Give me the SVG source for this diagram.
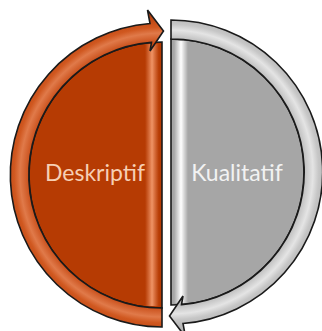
<svg xmlns="http://www.w3.org/2000/svg" xmlns:xlink="http://www.w3.org/1999/xlink" width="322" height="331" viewBox="0 0 322 331">
  <style>
    .outline { stroke: #1a1a1a; stroke-width: 1.6; stroke-linejoin: miter; }
    .label { font-family: Lato, "Liberation Sans", Arial, sans-serif; font-size: 23px; text-anchor: middle; }
  </style>
  <defs>
    <path id="band" d="M 0 152 A 152 152 0 0 1 -12 -151.5 L -14.5 -165 L 1.5 -144 L -12 -124 L -10.5 -132.6 A 133 133 0 0 0 0 133 Z"/>
    <path id="disk" d="M 0 -133 A 133 133 0 0 0 0 133 Z"/>
    <radialGradient id="bandOrange" gradientUnits="userSpaceOnUse" cx="0" cy="0" r="166">
      <stop offset="0.75" stop-color="#b8400c"/>
      <stop offset="0.80" stop-color="#c94f1a"/>
      <stop offset="0.855" stop-color="#e07a4a"/>
      <stop offset="0.89" stop-color="#d05820"/>
      <stop offset="0.93" stop-color="#c24a15"/>
      <stop offset="1" stop-color="#a83a0a"/>
    </radialGradient>
    <radialGradient id="bandGray" gradientUnits="userSpaceOnUse" cx="0" cy="0" r="166">
      <stop offset="0.75" stop-color="#b4b4b4"/>
      <stop offset="0.80" stop-color="#bdbdbd"/>
      <stop offset="0.855" stop-color="#e4e4e4"/>
      <stop offset="0.89" stop-color="#c6c6c6"/>
      <stop offset="0.93" stop-color="#b8b8b8"/>
      <stop offset="1" stop-color="#a8a8a8"/>
    </radialGradient>
    <linearGradient id="stripeOrange" x1="0" y1="0" x2="1" y2="0">
      <stop offset="0" stop-color="#e8875a" stop-opacity="0"/>
      <stop offset="0.5" stop-color="#ef9466" stop-opacity="1"/>
      <stop offset="1" stop-color="#e8875a" stop-opacity="0"/>
    </linearGradient>
    <linearGradient id="stripeGray" x1="0" y1="0" x2="1" y2="0">
      <stop offset="0" stop-color="#ffffff" stop-opacity="0"/>
      <stop offset="0.5" stop-color="#ffffff" stop-opacity="1"/>
      <stop offset="1" stop-color="#ffffff" stop-opacity="0"/>
    </linearGradient>
  </defs>
  <rect width="322" height="331" fill="#ffffff"/>

  <g id="deskriptif">
    <g transform="translate(162,175)">
      <use xlink:href="#disk" href="#disk" fill="#b63b03" class="outline"/>
      <rect x="-17" y="-131" width="14" height="262" fill="url(#stripeOrange)"/>
    </g>
    <text class="label" x="95" y="181" fill="#f6cfb4">Deskriptif</text>
  </g>

  <g id="kualitatif">
    <g transform="translate(171,172) rotate(180)">
      <use xlink:href="#disk" href="#disk" fill="#a6a6a6" class="outline"/>
      <rect x="-17" y="-131" width="14" height="262" fill="url(#stripeGray)"/>
    </g>
    <text class="label" x="237" y="181" fill="#f2f2f2">Kualitatif</text>
  </g>

  <g id="connectors">
    <g transform="translate(162,175)">
      <use xlink:href="#band" href="#band" fill="url(#bandOrange)" class="outline"/>
    </g>
    <g transform="translate(171,172) rotate(180)">
      <use xlink:href="#band" href="#band" fill="url(#bandGray)" class="outline"/>
    </g>
  </g>
</svg>
